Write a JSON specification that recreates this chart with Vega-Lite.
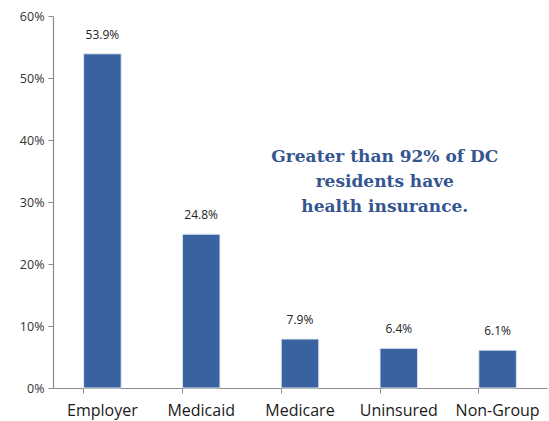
{
  "$schema": "https://vega.github.io/schema/vega-lite/v6.json",
  "width": 494,
  "height": 372,
  "autosize": "none",
  "padding": {"left": 53, "top": 16, "right": 2, "bottom": 33},
  "background": "white",
  "config": {"view": {"stroke": null}, "font": "Open Sans"},
  "data": {"values": [
    {"cat": "Employer", "pct": 0.539},
    {"cat": "Medicaid", "pct": 0.248},
    {"cat": "Medicare", "pct": 0.079},
    {"cat": "Uninsured", "pct": 0.064},
    {"cat": "Non-Group", "pct": 0.061}
  ]},
  "encoding": {
    "x": {"field": "cat", "type": "nominal", "sort": null,
      "scale": {"paddingInner": 0.62, "paddingOuter": 0.31},
      "axis": {"title": null, "labelAngle": 0, "labelFontSize": 16, "labelColor": "#1a1a1a",
        "domainColor": "#8c8c8c", "tickColor": "#8c8c8c", "tickSize": 5, "bandPosition": 0,
        "labelPadding": 9, "domainWidth": 1.2}},
    "y": {"field": "pct", "type": "quantitative",
      "scale": {"domain": [0, 0.6]},
      "axis": {"title": null, "format": ".0%", "values": [0, 0.1, 0.2, 0.3, 0.4, 0.5, 0.6],
        "grid": false, "labelFontSize": 12.5, "labelColor": "#333333",
        "domainColor": "#8c8c8c", "tickColor": "#8c8c8c", "tickSize": 5, "labelPadding": 4, "domainWidth": 1.2}}
  },
  "layer": [
    {"mark": {"type": "bar", "color": "#3a62a0", "stroke": "#dfe6f0", "strokeWidth": 1}},
    {"mark": {"type": "text", "dy": -19, "fontSize": 12, "color": "#222222"},
      "encoding": {"text": {"field": "pct", "type": "quantitative", "format": ".1%"}}},
    {"data": {"values": [{"cat": "Uninsured", "pct": 0.385, "label": ["Greater than 92% of DC", "residents have", "health insurance."]}]},
      "mark": {"type": "text", "dx": -14, "font": "DejaVu Serif", "fontWeight": "bold", "fontSize": 17, "color": "#34558f", "lineHeight": 25, "align": "center", "baseline": "top", "letterSpacing": -0.6},
      "encoding": {"text": {"field": "label"}}}
  ]
}
